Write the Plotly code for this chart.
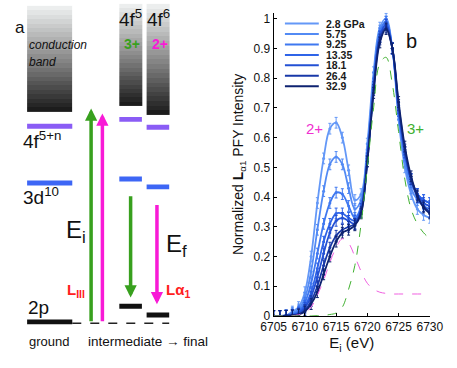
import plotly.graph_objects as go

W, H = 457, 368

# ---- panel b data ----
energy = list(range(6705, 6731))
pressures = ['2.8 GPa', '5.75', '9.25', '13.35', '18.1', '26.4', '32.9']
colors = ['#6498f7', '#528af4', '#3f78f0', '#2f64e8', '#2350d4', '#1838a8', '#0e2270']

p2_8 = [0, 0, 0.002, 0.015, 0.03, 0.08, 0.2, 0.38, 0.53, 0.63, 0.65, 0.6, 0.49, 0.39, 0.41,
        0.58, 0.82, 0.97, 1.0, 0.9, 0.66, 0.5, 0.41, 0.36, 0.34, 0.33]
p5_75 = [0, 0, 0.002, 0.01, 0.022, 0.06, 0.15, 0.29, 0.42, 0.51, 0.535, 0.51, 0.43, 0.36, 0.39,
         0.56, 0.8, 0.96, 0.99, 0.9, 0.68, 0.52, 0.43, 0.39, 0.37, 0.36]
p9_25 = [0, 0, 0.001, 0.006, 0.016, 0.045, 0.11, 0.21, 0.31, 0.38, 0.415, 0.41, 0.37, 0.33, 0.37,
         0.54, 0.78, 0.95, 0.99, 0.9, 0.69, 0.54, 0.45, 0.41, 0.39, 0.38]
p13_35 = [0, 0, 0.001, 0.004, 0.012, 0.035, 0.08, 0.16, 0.25, 0.31, 0.345, 0.345, 0.33, 0.32, 0.36,
          0.53, 0.77, 0.94, 0.98, 0.9, 0.69, 0.55, 0.46, 0.41, 0.39, 0.38]
p18_1 = [0, 0, 0.001, 0.003, 0.009, 0.028, 0.065, 0.13, 0.21, 0.28, 0.32, 0.33, 0.32, 0.31, 0.36,
         0.53, 0.77, 0.94, 0.98, 0.9, 0.7, 0.55, 0.46, 0.41, 0.38, 0.37]
p26_4 = [0, 0, 0.001, 0.002, 0.006, 0.02, 0.05, 0.1, 0.17, 0.23, 0.27, 0.29, 0.3, 0.31, 0.35,
         0.52, 0.76, 0.93, 0.97, 0.9, 0.71, 0.56, 0.46, 0.4, 0.37, 0.35]
p32_9 = [0, 0, 0.001, 0.002, 0.005, 0.015, 0.04, 0.08, 0.14, 0.2, 0.25, 0.28, 0.29, 0.305, 0.345,
         0.52, 0.75, 0.92, 0.965, 0.9, 0.72, 0.57, 0.47, 0.405, 0.365, 0.345]
series = [p2_8, p5_75, p9_25, p13_35, p18_1, p26_4, p32_9]

fit_2plus = [0, 0, 0, 0.001, 0.004, 0.012, 0.03, 0.07, 0.12, 0.18, 0.23, 0.26, 0.245, 0.2, 0.15,
             0.11, 0.09, 0.08, 0.076, 0.074, 0.074, 0.074, 0.074, 0.074, 0.074, 0.074]
fit_3plus = [0, 0, 0, 0, 0, 0, 0, 0.001, 0.002, 0.005, 0.01, 0.03, 0.09, 0.17, 0.31,
             0.5, 0.7, 0.85, 0.87, 0.78, 0.62, 0.46, 0.36, 0.31, 0.28, 0.26]

# ---- panel a: level diagram (pixel units of the panel) ----
col_ground = (15, 63)
col_3plus = (113, 137)
col_2plus = (142, 166)
level_4f = [128, 121, 129]      # ground, 3+, 2+
level_3d = [186, 182, 190]
level_2p = [328, 312, 321]
band_top = [5, 3, 3]
band_bottom = [113, 107, 116]

GREEN = '#38a01e'
MAGENTA = '#f81ad6'
RED = '#ff2020'
PURPLE = '#8a5cf5'
BLUE = '#3d66f5'

fig = go.Figure()

# conduction band gradients
for (x0, x1), t, b in zip([col_ground, col_3plus, col_2plus], band_top, band_bottom):
    n = 24
    edges = [t + (b - t) * i / n for i in range(n + 1)]
    z = [[i / (n - 1)] for i in range(n)]
    fig.add_trace(go.Heatmap(
        x=[x0, x1], y=edges, z=z, xaxis='x2', yaxis='y2',
        colorscale=[[0, '#eceeee'], [0.5, '#8a8a8a'], [1, '#1c1c1c']],
        showscale=False, hoverinfo='skip'))

# measured curves
for name, vals, c in zip(pressures, series, colors):
    fig.add_trace(go.Scatter(
        x=energy, y=vals, mode='lines+markers', name=name,
        line=dict(color=c, width=1.8, shape='spline'),
        marker=dict(size=3, color=c),
        error_y=dict(type='constant', value=0.018, color=c, thickness=1, width=1.5)))

fig.add_trace(go.Scatter(x=energy, y=fit_2plus, mode='lines', name='2+ fit',
                         line=dict(color='#f060e0', width=1, dash='dash', shape='spline')))
fig.add_trace(go.Scatter(x=energy, y=fit_3plus, mode='lines', name='3+ fit',
                         line=dict(color='#40b030', width=1, dash='dash', shape='spline')))

shapes = []
annotations = []


def level(x_rng, y, color, h=5):
    shapes.append(dict(type='rect', xref='x2', yref='y2', x0=x_rng[0], x1=x_rng[1],
                       y0=y - h / 2, y1=y + h / 2, fillcolor=color, line=dict(width=0)))


for cols, ys, c in [([col_ground, col_3plus, col_2plus], level_4f, PURPLE),
                    ([col_ground, col_3plus, col_2plus], level_3d, BLUE),
                    ([col_ground, col_3plus, col_2plus], level_2p, '#111111')]:
    for xr, y in zip(cols, ys):
        level(xr, y, c)

shapes.append(dict(type='line', xref='x2', yref='y2', x0=col_ground[1], x1=col_2plus[1],
                   y0=329.5, y1=329.5, line=dict(color='#222222', width=1.5, dash='dash')))


def arrow(x, y0, y1, color):
    annotations.append(dict(x=x, y=y1, ax=x, ay=y0, xref='x2', yref='y2', axref='x2', ayref='y2',
                            text='', showarrow=True, arrowhead=2, arrowsize=0.7,
                            arrowwidth=3.5, arrowcolor=color, standoff=0))


arrow(83, 329, 110, GREEN)
arrow(95, 329, 115, MAGENTA)
arrow(125, 198, 303, GREEN)
arrow(153, 207, 310, MAGENTA)


def label(x, y, text, size, color='#111111', xanchor='center', ref='x2'):
    annotations.append(dict(x=x, y=y, xref=ref, yref=ref.replace('x', 'y'), text=text,
                            showarrow=False, xanchor=xanchor, yanchor='middle',
                            font=dict(size=size, color=color)))


label(0, 27, 'a', 17, xanchor='left')
label(15, 45, '<i>conduction</i>', 12, xanchor='left')
label(15, 62, '<i>band</i>', 12, xanchor='left')
label(9, 142, '4f<sup>5+n</sup>', 19, xanchor='left')
label(9, 199, '3d<sup>10</sup>', 19, xanchor='left')
label(14, 313, '2p', 19, xanchor='left')
label(38, 348, 'ground', 13)
label(143, 348, 'intermediate \u2192 final', 13.5)
label(125, 17, '4f<sup>5</sup>', 19)
label(155, 17, '4f<sup>6</sup>', 19)
label(126, 44, '<b>3+</b>', 14, GREEN)
label(156, 44, '<b>2+</b>', 14, MAGENTA)
label(67, 236, 'E<sub>i</sub>', 24)
label(174, 250, 'E<sub>f</sub>', 24)
label(67, 296, '<b>L<sub>III</sub></b>', 15, RED)
label(161, 296, '<b>L\u03b1<sub>1</sub></b>', 15, RED, xanchor='left')

# panel b labels
annotations.append(dict(x=6711.6, y=0.63, xref='x', yref='y', text='2+', showarrow=False,
                        font=dict(size=15, color='#f030d0')))
annotations.append(dict(x=6727.7, y=0.63, xref='x', yref='y', text='3+', showarrow=False,
                        font=dict(size=15, color='#40b030')))
annotations.append(dict(x=432 / W, y=1 - 28 / H, xref='paper', yref='paper', text='b',
                        showarrow=False, font=dict(size=20, color='#111111')))

# hand-made compact legend
for i, (name, c) in enumerate(zip(pressures, colors)):
    yy = 1 - (23 + i * 10.7) / H
    shapes.append(dict(type='line', xref='paper', yref='paper', x0=289 / W, x1=325 / W,
                       y0=yy, y1=yy, line=dict(color=c, width=2)))
    annotations.append(dict(x=331 / W, y=yy, xref='paper', yref='paper', text='<b>%s</b>' % name,
                            showarrow=False, xanchor='left', yanchor='middle',
                            font=dict(size=10.5, color='#1a1a1a')))

fig.update_layout(
    width=W, height=H,
    margin=dict(l=0, r=0, t=0, b=0),
    paper_bgcolor='white', plot_bgcolor='white',
    font=dict(family='Liberation Sans, Arial', color='#111111'),
    showlegend=False,
    shapes=shapes, annotations=annotations,
    xaxis=dict(domain=[277 / W, 443 / W], range=[6705, 6730], dtick=5, tick0=6705,
               showgrid=False, zeroline=False, showline=True, linecolor='black', linewidth=1,
               ticks='inside', ticklen=3, tickcolor='black', tickfont=dict(size=12),
               title=dict(text='E<sub>i</sub> (eV)', font=dict(size=15), standoff=4)),
    yaxis=dict(domain=[1 - 322 / H, 1 - 12 / H], range=[0, 1.02], dtick=0.1,
               showgrid=False, zeroline=False, showline=True, linecolor='black', linewidth=1,
               ticks='inside', ticklen=3, tickcolor='black', tickfont=dict(size=12),
               title=dict(text='Normalized <b>L</b><sub>\u03b11</sub> PFY Intensity',
                          font=dict(size=14), standoff=6)),
    xaxis2=dict(domain=[0, 230 / W], range=[0, 230], visible=False, fixedrange=True),
    yaxis2=dict(domain=[0, 1], range=[H, 0], visible=False, fixedrange=True, anchor='x2'),
)

# the page body has a default 8px margin; drop it so the figure sits at the window corner
fig.write_html('out.html', config={'displayModeBar': False},
               post_script="document.body.style.margin='0';")
